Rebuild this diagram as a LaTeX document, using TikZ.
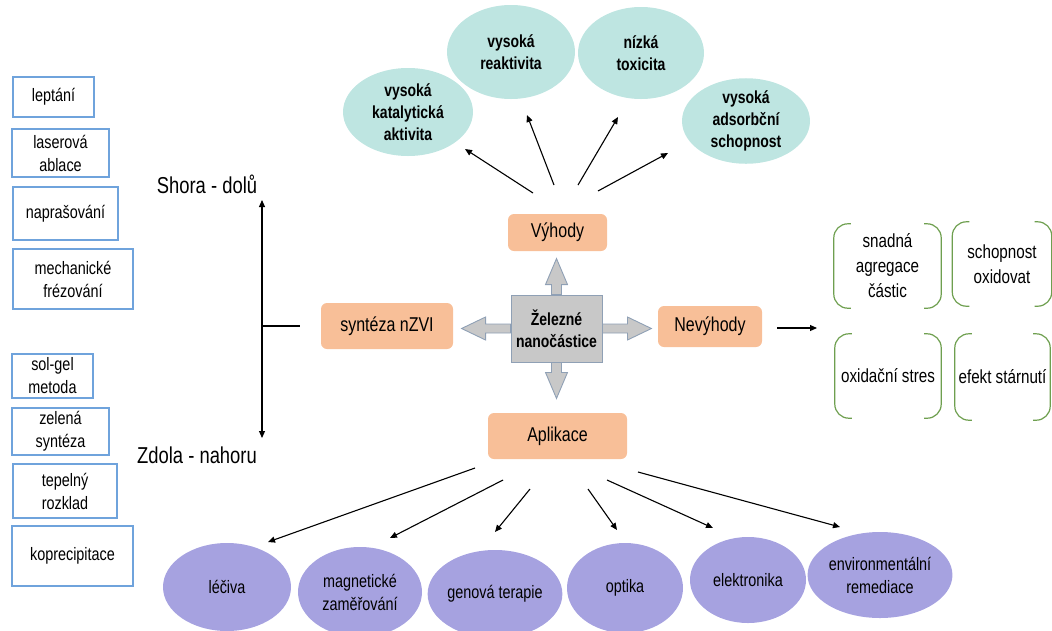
\documentclass[tikz,border=0pt]{standalone}
\usepackage{fontspec}
\setmainfont[FakeStretch=0.8]{Liberation Sans}
\usetikzlibrary{shapes.geometric,arrows.meta,calc,backgrounds}
\definecolor{peach}{HTML}{F8BF98}
\definecolor{tealc}{HTML}{BEE5E1}
\definecolor{purp}{HTML}{A6A2E0}
\definecolor{lblue}{HTML}{6FA3DC}
\definecolor{bgreen}{HTML}{6E9F4F}
\definecolor{cgray}{HTML}{C8C8C8}
\definecolor{cedge}{HTML}{8FA0B5}
\newcommand\mybrackets[1]{%
  \draw[brk] ([xshift=17pt]#1.north west) -- (#1.north west) -- (#1.south west) -- ([xshift=17pt]#1.south west);
  \draw[brk] ([xshift=-17pt]#1.north east) -- (#1.north east) -- (#1.south east) -- ([xshift=-17pt]#1.south east);}
\begin{document}
\begin{tikzpicture}[x=1pt,y=-1pt,
  lbox/.style={draw=lblue, line width=1.1pt, fill=white, inner sep=0pt, align=center, font=\fontsize{18}{23}\selectfont},
  pbox/.style={fill=peach, rounded corners=6pt, inner sep=0pt, font=\fontsize{20}{24}\selectfont},
  tell/.style={ellipse, fill=tealc, inner sep=0pt, align=center, font=\bfseries\fontsize{17.5}{22}\selectfont},
  pell/.style={ellipse, fill=purp, inner sep=0pt, align=center, font=\fontsize{18}{23}\selectfont},
  gbox/.style={fill=cgray, draw=cedge, line width=0.9pt, inner sep=0pt, align=center, font=\bfseries\fontsize{17.5}{22}\selectfont},
  garr/.style={fill=cgray, draw=cedge, line width=0.9pt, line join=miter},
  brktext/.style={inner sep=0pt, align=center, font=\fontsize{19}{25}\selectfont},
  brk/.style={draw=bgreen, line width=1.2pt, rounded corners=14pt},
  arr/.style={-{Triangle[length=7pt,width=6pt]}, line width=1.1pt},
  darr/.style={{Triangle[length=7pt,width=6pt]}-{Triangle[length=7pt,width=6pt]}, line width=1.1pt},
  side/.style={inner sep=0pt, font=\fontsize{23}{27}\selectfont}]
\useasboundingbox (0,0) rectangle (1052,630);

% left boxes
\node[lbox, minimum width=81, minimum height=40] (b1) at (53.5,97) {leptání};
\node[lbox, minimum width=97, minimum height=48] (b2) at (60.5,153) {laserová\\ablace};
\node[lbox, minimum width=105, minimum height=53] (b3) at (65.5,213.5) {naprašování};
\node[lbox, minimum width=120, minimum height=60] (b4) at (73,279) {mechanické\\frézování};
\node[lbox, minimum width=81, minimum height=44] (b5) at (52.5,376) {sol-gel\\metoda};
\node[lbox, minimum width=97, minimum height=47] (b6) at (60.5,431.5) {zelená\\syntéza};
\node[lbox, minimum width=104, minimum height=54] (b7) at (65,491) {tepelný\\rozklad};
\node[lbox, minimum width=121, minimum height=60] (b8) at (72.5,556) {koprecipitace};

% side labels
\node[side] (shora) at (207,184) {Shora - dolů};
\node[side] (zdola) at (197,455) {Zdola - nahoru};
\coordinate (vtop) at (262,200);
\coordinate (vbot) at (262,438);
\coordinate (vmid) at (262,326);
\coordinate (hend) at (300,326);
\draw[darr] (vtop) -- (vbot);
\draw[line width=1.1pt] (vmid) -- (hend);

% central
\node[gbox, minimum width=91, minimum height=67] (c) at (556.5,328.5) {Železné\\nanočástice};
\begin{scope}[on background layer]
\draw[garr] ([xshift=-5pt]c.north) -- ++(0,-10) -- ++(-6,0) -- ++(11,-26) -- ++(11,26) -- ++(-6,0) -- ++(0,10) -- cycle;
\draw[garr] ([xshift=-5pt]c.south) -- ++(0,10) -- ++(-6,0) -- ++(11,26) -- ++(11,-26) -- ++(-6,0) -- ++(0,-10) -- cycle;
\draw[garr] ([yshift=4.5pt]c.west) -- ++(-25,0) -- ++(0,-7) -- ++(-24,11.5) -- ++(24,11.5) -- ++(0,-7) -- ++(25,0) -- cycle;
\draw[garr] ([yshift=4.5pt]c.east) -- ++(25,0) -- ++(0,-7) -- ++(24,11.5) -- ++(-24,11.5) -- ++(0,-7) -- ++(-25,0) -- cycle;
\end{scope}

% peach boxes
\node[pbox, minimum width=132, minimum height=46] (syn) at (387,326) {syntéza nZVI};
\node[pbox, minimum width=99, minimum height=37] (vyh) at (557.5,232.5) {Výhody};
\node[pbox, minimum width=104, minimum height=41] (nev) at (710,326.5) {Nevýhody};
\node[pbox, minimum width=139, minimum height=46] (apl) at (557.5,436) {Aplikace};

% Nevýhody arrow
\coordinate (n1) at (777,328);
\coordinate (n2) at (817,328);
\draw[arr] (n1) -- (n2);

% bracket boxes
\node[brktext, minimum width=107, minimum height=84] (r1) at (887.5,266) {snadná\\agregace\\částic};
\node[brktext, minimum width=99, minimum height=84] (r2) at (1002,264) {schopnost\\oxidovat};
\node[brktext, minimum width=106, minimum height=84] (r3) at (888,376) {oxidační stres};
\node[brktext, minimum width=95, minimum height=86] (r4) at (1002.5,377) {efekt stárnutí};
\mybrackets{r1}
\mybrackets{r2}
\mybrackets{r3}
\mybrackets{r4}

% top ellipses
\node[tell, minimum width=130, minimum height=88] (t1) at (408,112) {vysoká\\katalytická\\aktivita};
\node[tell, minimum width=128, minimum height=94] (t2) at (511,52) {vysoká\\reaktivita};
\node[tell, minimum width=126, minimum height=92] (t3) at (641,53) {nízká\\toxicita};
\node[tell, minimum width=128, minimum height=82] (t4) at (746,121) {vysoká\\adsorbční\\schopnost};

\coordinate (ts1) at (533,193); \coordinate (te1) at (465,149);
\coordinate (ts2) at (554,185); \coordinate (te2) at (527,115);
\coordinate (ts3) at (578,185); \coordinate (te3) at (618,117);
\coordinate (ts4) at (598,191); \coordinate (te4) at (668,153);
\draw[arr] (ts1) -- (te1);
\draw[arr] (ts2) -- (te2);
\draw[arr] (ts3) -- (te3);
\draw[arr] (ts4) -- (te4);

% bottom ellipses
\node[pell, minimum width=128, minimum height=88] (p1) at (227,587) {léčiva};
\node[pell, minimum width=124, minimum height=90] (p2) at (360,592) {magnetické\\zaměřování};
\node[pell, minimum width=126, minimum height=88] (p3) at (495,594) {genová terapie};
\node[pell, minimum width=116, minimum height=90] (p4) at (625,588) {optika};
\node[pell, minimum width=116, minimum height=86] (p5) at (748,580) {elektronika};
\node[pell, minimum width=128, minimum height=86] (p6) at (880,575) {environmentální\\remediace};

\coordinate (bs1) at (475,468); \coordinate (be1) at (268,542);
\coordinate (bs2) at (503,480); \coordinate (be2) at (390,538);
\coordinate (bs3) at (530,489); \coordinate (be3) at (495,532);
\coordinate (bs4) at (588,489); \coordinate (be4) at (617,530);
\coordinate (bs5) at (607,480); \coordinate (be5) at (713,528);
\coordinate (bs6) at (638,472); \coordinate (be6) at (840,527);
\draw[arr] (bs1) -- (be1);
\draw[arr] (bs2) -- (be2);
\draw[arr] (bs3) -- (be3);
\draw[arr] (bs4) -- (be4);
\draw[arr] (bs5) -- (be5);
\draw[arr] (bs6) -- (be6);
\end{tikzpicture}
\end{document}
